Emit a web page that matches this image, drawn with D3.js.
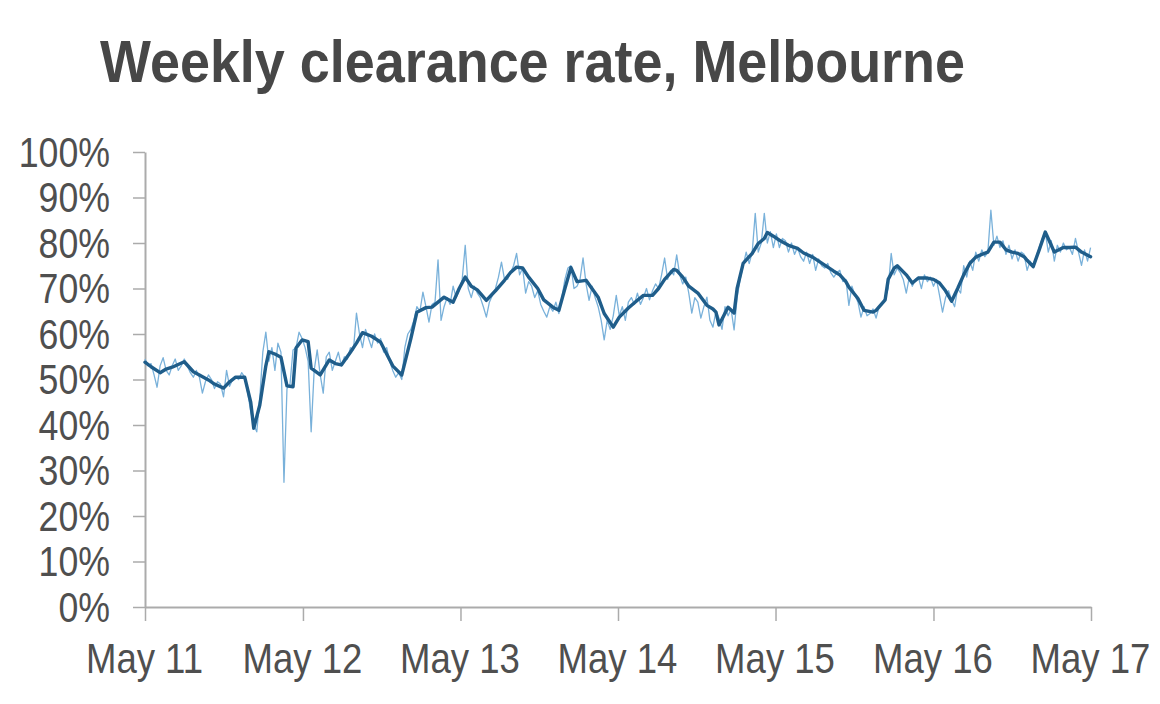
<!DOCTYPE html>
<html>
<head>
<meta charset="utf-8">
<script src="https://cdn.jsdelivr.net/npm/d3@7"></script>
<style>
  html, body { margin: 0; padding: 0; background: #ffffff; }
  svg { display: block; }
  text { font-family: "Liberation Sans", Arial, Helvetica, sans-serif; }
</style>
</head>
<body>
<svg id="chart" width="1160" height="704"></svg>
<script>
// ---- Data ----
const title = "Weekly clearance rate, Melbourne";
const startDate = "2011-05-01";           // week 0
const endDate = "2017-05-01";
const xTickDates = ["2011-05-01","2012-05-01","2013-05-01","2014-05-01","2015-05-01","2016-05-01","2017-05-01"];
const xTickLabels = ["May 11","May 12","May 13","May 14","May 15","May 16","May 17"];
const yTickValues = [0,10,20,30,40,50,60,70,80,90,100];
const yTickLabels = ["0%","10%","20%","30%","40%","50%","60%","70%","80%","90%","100%"];

// Weekly clearance rate (%), one value per week from week 0
const weeklyRate = [
  // May 2011 - May 2012 (weeks 0-52)
  54.5,53.0,53.5,51.0,48.3,53.0,54.8,52.0,51.0,53.0,54.5,52.0,53.0,54.5,53.0,51.5,50.5,52.0,50.5,47.0,
  49.5,51.0,50.0,48.0,49.5,49.0,46.2,52.0,48.5,50.0,50.5,50.0,51.5,50.5,47.0,43.0,40.0,38.5,46.0,56.0,
  60.4,54.0,57.0,52.0,58.0,56.0,27.4,48.0,49.0,56.5,57.0,60.4,59.0,
  // weeks 53-104
  57.0,54.0,38.5,52.0,56.5,51.0,47.0,55.0,56.0,52.0,54.0,56.0,53.0,55.0,54.5,57.0,56.5,64.6,60.0,57.0,
  61.0,59.0,57.0,60.0,58.0,59.0,56.0,57.0,54.0,52.0,50.5,51.5,50.0,57.0,60.0,61.0,63.0,66.0,65.0,69.2,
  66.0,62.6,66.5,67.0,76.3,63.0,66.0,68.0,66.5,70.5,68.0,69.5,
  // weeks 105-156
  72.0,79.5,70.0,68.0,70.5,69.0,68.0,66.0,63.7,67.0,68.5,70.0,72.5,75.8,72.0,72.0,73.5,75.0,77.7,73.0,
  74.5,69.0,71.5,70.5,68.0,69.5,66.5,65.0,63.7,66.0,65.0,67.0,64.5,68.0,72.0,74.5,75.0,70.0,70.5,72.0,
  76.7,71.0,67.4,70.5,68.0,66.0,63.0,58.7,63.0,61.0,64.0,68.5,
  // weeks 157-209
  64.0,66.0,63.0,67.0,68.0,66.5,69.0,66.5,68.0,70.0,67.5,69.5,71.0,70.0,73.0,76.7,72.0,74.0,73.0,77.4,
  73.0,71.0,72.5,69.0,64.6,68.0,67.0,63.5,66.0,68.1,63.0,61.5,65.0,63.5,61.0,66.0,64.0,65.5,60.9,68.0,
  72.0,75.0,78.0,75.5,78.0,86.5,78.0,80.0,86.5,80.0,82.5,79.0,82.0,
  // weeks 210-261
  79.0,81.0,80.5,78.0,80.0,77.5,79.0,77.0,76.0,78.0,75.5,77.5,74.0,76.5,75.0,74.5,75.5,73.5,72.5,73.5,
  74.0,71.5,72.0,66.3,70.5,68.5,67.0,63.7,66.0,64.0,64.5,65.5,63.5,66.0,66.5,68.0,70.0,77.7,73.0,74.5,
  73.5,72.0,69.0,72.5,70.5,72.0,72.5,70.0,73.0,71.5,72.5,70.5,
  // weeks 262-313
  72.0,68.5,64.8,68.0,69.5,67.5,66.0,70.0,69.0,75.0,72.5,76.0,74.0,78.0,76.0,78.5,77.0,78.0,87.2,79.5,
  81.5,79.0,80.5,77.5,79.5,76.5,78.5,76.0,78.0,77.5,74.0,76.0,75.0,77.0,79.0,81.0,82.5,78.0,80.5,76.0,
  79.5,78.0,80.0,78.5,79.0,77.5,81.0,78.0,75.1,78.5,76.0,79.0
];

// Smoothed (average) clearance rate: week number and value (%)
const avgWeek = [0,2,5,7,9,13,16,18,21,23,26,28,30,33,35,36,38,40,41,43,45,47,49,50,52,
  54,55,58,61,63,65,68,70,72,75,78,82,85,88,90,93,95,99,102,104,
  106,108,110,113,116,119,121,123,125,127,130,132,135,137,139,141,143,146,150,152,155,
  157,160,163,165,168,170,172,175,176,178,180,183,186,188,189,190,193,195,196,198,200,201,203,205,206,208,
  210,213,216,218,221,223,226,228,230,232,233,236,238,241,242,245,246,248,249,252,254,256,259,261,
  263,265,267,269,271,273,275,277,279,281,283,285,287,289,291,292,294,296,298,300,301,304,306,308,310,313];
const avgRate = [53.8,52.8,51.5,52.3,52.7,53.9,51.7,51.0,49.9,49.0,48.1,49.5,50.5,50.5,45.0,39.3,44.4,53.0,56.1,55.6,54.9,48.6,48.4,56.9,58.7,
  58.3,52.5,51.0,54.3,53.5,53.2,56.0,58.0,60.3,59.5,58.2,53.0,51.0,59.0,64.8,65.8,65.9,68.1,67.0,70.0,
  72.5,70.5,69.7,67.4,69.5,71.8,73.5,74.7,74.5,72.5,70.0,67.5,65.9,65.2,70.0,74.6,71.5,71.8,68.1,64.5,61.5,
  63.7,65.7,67.4,68.5,68.5,70.0,72.0,74.2,74.0,72.5,70.5,69.0,66.3,65.5,64.8,62.0,65.9,64.6,70.0,75.5,77.0,77.7,79.9,81.0,82.3,81.5,
  80.6,79.5,78.8,77.8,76.9,76.0,74.7,73.8,73.0,71.5,70.3,67.8,65.2,64.8,65.2,67.5,72.0,74.5,75.0,73.0,71.2,72.3,72.3,72.0,
  71.2,69.5,67.2,70.0,73.0,75.5,76.9,77.5,78.0,80.2,80.2,78.5,78.0,77.7,77.0,76.2,74.8,78.5,82.4,79.5,78.0,79.0,79.0,79.1,78.0,77.0];

// ---- Drawing ----
const svg = d3.select("#chart");
const parse = d3.timeParse("%Y-%m-%d");
const t0 = parse(startDate);
const weekDate = w => d3.timeWeek.offset(t0, w);

const x = d3.scaleTime().domain([parse(startDate), parse(endDate)]).range([145, 1091]);
const y = d3.scaleLinear().domain([0, 100]).range([607, 152]);

// Title
svg.append("text")
  .attr("x", 100).attr("y", 82)
  .attr("font-size", 59).attr("font-weight", "bold")
  .attr("fill", "#474747")
  .attr("textLength", 865).attr("lengthAdjust", "spacingAndGlyphs")
  .text(title);

const axisColor = "#ababab";
const labelColor = "#4f4f4f";

// Y axis
const yAxis = d3.axisLeft(y)
  .tickValues(yTickValues)
  .tickFormat((d, i) => yTickLabels[i])
  .tickSize(12).tickSizeOuter(0);
const gy = svg.append("g").attr("transform", "translate(145,0)").call(yAxis);
gy.select(".domain").attr("stroke", axisColor).attr("stroke-width", 2);
gy.selectAll(".tick line").attr("stroke", axisColor).attr("stroke-width", 1.5);
gy.selectAll(".tick text")
  .attr("x", null).attr("dy", null)
  .attr("transform", "translate(-35,14) scale(0.85,1)")
  .attr("text-anchor", "end")
  .attr("font-size", 42)
  .attr("fill", labelColor)
  .style("font-family", "'Liberation Sans', Arial, sans-serif");

// X axis
const xAxis = d3.axisBottom(x)
  .tickValues(xTickDates.map(parse))
  .tickFormat((d, i) => xTickLabels[i])
  .tickSize(14).tickSizeOuter(0);
const gx = svg.append("g").attr("transform", "translate(0,607)").call(xAxis);
gx.select(".domain").attr("stroke", axisColor).attr("stroke-width", 2);
gx.selectAll(".tick line").attr("stroke", axisColor).attr("stroke-width", 1.5);
gx.selectAll(".tick text")
  .attr("y", null).attr("dy", null)
  .attr("transform", "translate(-1,66) scale(0.87,1)")
  .attr("text-anchor", "middle")
  .attr("font-size", 42)
  .attr("fill", labelColor)
  .style("font-family", "'Liberation Sans', Arial, sans-serif");

// Lines
const weeklyData = weeklyRate.map((v, i) => ({ date: weekDate(i), value: v }));
const avgData = avgWeek.map((w, i) => ({ date: weekDate(w), value: avgRate[i] }));

const line = d3.line().x(d => x(d.date)).y(d => y(d.value));

svg.append("path")
  .datum(weeklyData)
  .attr("d", line)
  .attr("fill", "none")
  .attr("stroke", "#79b1da")
  .attr("stroke-width", 1.3)
  .attr("stroke-linejoin", "round");

svg.append("path")
  .datum(avgData)
  .attr("d", line)
  .attr("fill", "none")
  .attr("stroke", "#1f5d8a")
  .attr("stroke-width", 3.4)
  .attr("stroke-linejoin", "round")
  .attr("stroke-linecap", "round");
</script>
</body>
</html>
